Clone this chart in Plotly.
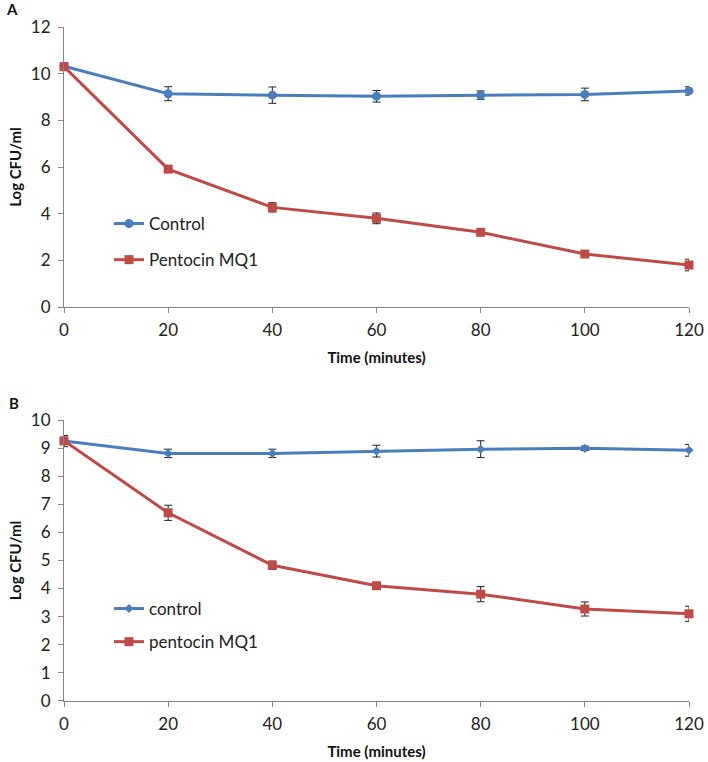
import plotly.graph_objects as go

# time points (minutes)
TIME = [0, 20, 40, 60, 80, 100, 120]

# panel A
A_CTRL = [10.32, 9.14, 9.08, 9.03, 9.08, 9.11, 9.26]
A_CTRL_ERR = [0.15, 0.3, 0.35, 0.25, 0.18, 0.27, 0.18]
A_PENT = [10.3, 5.91, 4.27, 3.8, 3.2, 2.27, 1.8]
A_PENT_ERR = [0.12, 0.15, 0.2, 0.23, 0.08, 0.08, 0.25]

# panel B
B_CTRL = [9.26, 8.82, 8.82, 8.9, 8.97, 9.0, 8.93]
B_CTRL_ERR = [0.2, 0.15, 0.15, 0.21, 0.3, 0.08, 0.21]
B_PENT = [9.27, 6.7, 4.83, 4.1, 3.8, 3.27, 3.1]
B_PENT_ERR = [0.1, 0.27, 0.15, 0.06, 0.27, 0.25, 0.27]

BLUE = "#4a7ebb"
RED = "#be4b48"
AX = "#868686"
FONT = "Lato, Liberation Sans, sans-serif"
W, H = 708, 762

fig = go.Figure()

def err(v):
    return dict(type="data", array=v, color="#222", thickness=1, width=4)

def add(x, y, e, name, color, symbol, size, xa, ya, leg, grp):
    fig.add_trace(go.Scatter(
        x=x, y=y, name=name, mode="lines+markers", xaxis=xa, yaxis=ya,
        legend=leg, legendgroup=grp, cliponaxis=False,
        line=dict(color=color, width=3),
        marker=dict(color=color, symbol=symbol, size=size),
        error_y=err(e)))

add(TIME, A_CTRL, A_CTRL_ERR, "Control", BLUE, "circle", 9, "x", "y", "legend", "a1")
add(TIME, A_PENT, A_PENT_ERR, "Pentocin MQ1", RED, "square", 9, "x", "y", "legend", "a2")
add(TIME, B_CTRL, B_CTRL_ERR, "control", BLUE, "diamond", 7, "x2", "y2", "legend2", "b1")
add(TIME, B_PENT, B_PENT_ERR, "pentocin MQ1", RED, "square", 9, "x2", "y2", "legend2", "b2")

xd = [64/W, 689/W]
axcommon = dict(showgrid=False, zeroline=False, showline=True, linecolor=AX, linewidth=1,
                ticks="outside", tickcolor=AX, ticklen=5, automargin=False,
                tickfont=dict(size=17, color="#222", family=FONT))
titlefont = dict(size=15, color="#111", family=FONT, weight="bold")
xax = dict(range=[0, 120], dtick=20, ticklabelstandoff=3, **axcommon,
           title=dict(text="Time (minutes)", font=titlefont, standoff=13))

fig.update_layout(
    width=W, height=H, paper_bgcolor="white", plot_bgcolor="white",
    margin=dict(l=0, r=0, t=0, b=0), font=dict(family=FONT),
    xaxis=dict(domain=xd, anchor="y", **xax),
    yaxis=dict(domain=[1-307/H, 1-27/H], anchor="x", range=[0, 12], dtick=2,
               ticklabelstandoff=4, **axcommon,
               title=dict(text="Log CFU/ml", font=titlefont, standoff=5)),
    xaxis2=dict(domain=xd, anchor="y2", **xax),
    yaxis2=dict(domain=[1-700.7/H, 1-420.3/H], anchor="x2", range=[0, 10], dtick=1,
                ticklabelstandoff=4, **axcommon,
                title=dict(text="Log CFU/ml", font=titlefont, standoff=5)),
    legend=dict(x=109/W, y=1-206/H, xanchor="left", yanchor="top", bgcolor="rgba(0,0,0,0)",
                font=dict(size=17, color="#222"), tracegroupgap=11, itemwidth=30),
    legend2=dict(x=109/W, y=1-591/H, xanchor="left", yanchor="top", bgcolor="rgba(0,0,0,0)",
                 font=dict(size=17, color="#222"), tracegroupgap=8, itemwidth=30),
    showlegend=True,
)

fig.add_annotation(text="<b>A</b>", x=12/W, y=1-9/H, xref="paper", yref="paper",
                   xanchor="center", yanchor="middle",
                   showarrow=False, font=dict(size=15, color="#111"))
fig.add_annotation(text="<b>B</b>", x=14/W, y=1-403/H, xref="paper", yref="paper",
                   xanchor="center", yanchor="middle",
                   showarrow=False, font=dict(size=15, color="#111"))

fig.write_html("out.html", config={"displayModeBar": False},
               post_script="document.body.style.margin='0';")
